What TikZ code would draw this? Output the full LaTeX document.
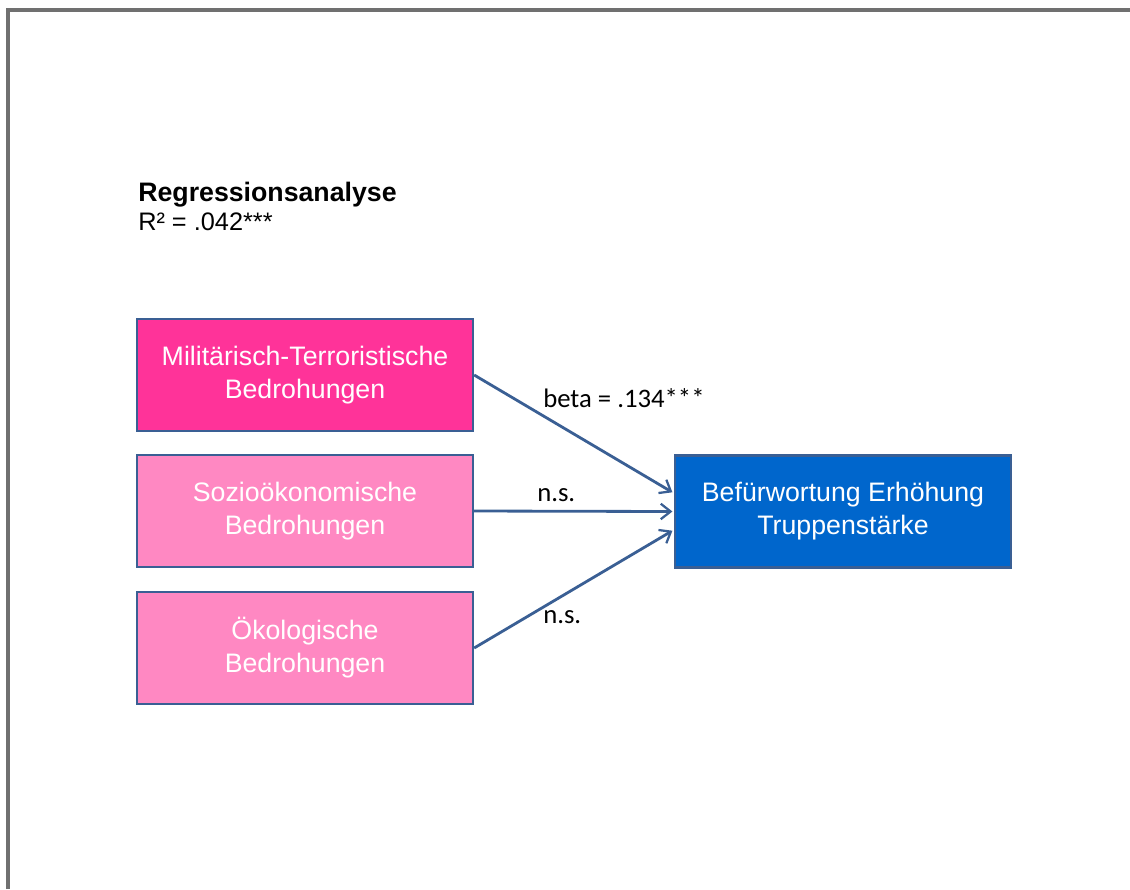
\documentclass[tikz,border=0pt]{standalone}
\usepackage{fontspec}
\setmainfont{Liberation Sans}
\newfontfamily\calibrifont{Carlito}
\usetikzlibrary{arrows.meta, positioning}

\definecolor{milpink}{HTML}{FF3399}
\definecolor{lightpink}{HTML}{FF88C2}
\definecolor{targetblue}{HTML}{0066CC}
\definecolor{edgeblue}{HTML}{3A5F94}
\definecolor{framegray}{HTML}{707070}

\begin{document}
\begin{tikzpicture}[
                x=0.025cm, y=-0.025cm,
                box/.style={rectangle, draw=edgeblue, line width=1.6pt, minimum width=8.4cm, minimum height=2.8cm, align=center, text=white, font=\fontsize{19}{23.5}\selectfont},
                lbl/.style={anchor=base west, inner sep=0pt, font=\calibrifont\fontsize{19}{23}\selectfont},
                link/.style={-{Straight Barb[length=7pt, width=11pt, line width=1.6pt]}, draw=edgeblue, line width=2pt},
            ]
                \useasboundingbox (0,0) rectangle (1130,889);
                \draw[framegray, line width=2.2pt] (8,889) -- (8,10) -- (1130,10);

                \node[anchor=base west, inner sep=0pt, font=\bfseries\fontsize{19}{23}\selectfont] (title) at (138,201) {Regressionsanalyse};
                \node[anchor=base west, inner sep=0pt, font=\fontsize{18}{22}\selectfont] (rsq) at (138,230) {R² = .042***};

                \node[box, fill=milpink] (mil) at (305,375) {Militärisch-Terroristische\\Bedrohungen};
                \node[box, fill=lightpink] (sozio) at (305,511) {Sozioökonomische\\Bedrohungen};
                \node[box, fill=lightpink] (oeko) at (305,648) {Ökologische\\Bedrohungen};
                \node[box, fill=targetblue] (ziel) at (843,511.5) {Befürwortung Erhöhung\\Truppenstärke};

                \draw[link] (mil.east) -- ([yshift=0.48cm, xshift=-1pt]ziel.west);
                \draw[link] (sozio.east) -- ([xshift=-1pt]ziel.west);
                \draw[link] (oeko.east) -- ([yshift=-0.48cm, xshift=-1pt]ziel.west);

                \node[lbl] (beta) at (543,407) {beta = .134***};
                \node[lbl] (ns1) at (537,501) {n.s.};
                \node[lbl] (ns2) at (543,623) {n.s.};
            \end{tikzpicture}
\end{document}
